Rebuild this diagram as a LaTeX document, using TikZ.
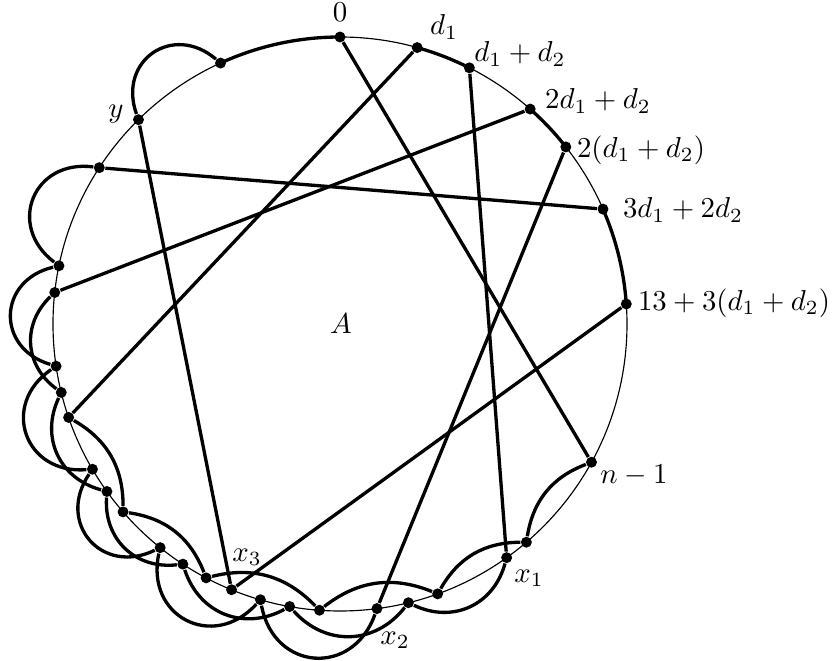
\documentclass[tikz,border=0pt]{standalone}
\begin{document}
\begin{tikzpicture}[
  dot/.style={circle,fill=black,inner sep=0pt,minimum size=3.8pt},
  edge/.style={line width=1.15pt},
  inarc/.style={edge,bend left=30},
  outbig/.style={edge,bend right=75,looseness=1.5},
  outsmall/.style={edge,bend right=50,looseness=1.1},
  lab/.style={inner sep=0pt}
]
\def\R{3.5}
\useasboundingbox (-4.1463,-4.1098) rectangle (6.0122,3.9512);
\draw[line width=0.4pt] (0,0) circle (\R);
% points
\foreach \n/\a in {p0/90,pd1/74.4,pd12/63.2,ptd1/48.5,ptd12/38.1,pthr/23.6,pth/4.0,
  a1/-28.8,a2/-49.5,a3/-54.5,a4/-70.1,a5/-76.2,a6/-82.6,a7/-94.1,a8/-100.1,a9/-106.1,
  a10/-112.2,a11/-117.8,a12/-123.2,a13/-128.8,a14/-139.1,a15/-144.3,a16/-149.6,a17/-161.0,
  a18/-166.2,a19/-171.55,a20/-186.3,a21/-191.7,a22/-213,a23/-225.4,a24/-245.4}
  \node[dot] (\n) at (\a:\R) {};
% thick arcs along the circle
\draw[edge] (p0.center) arc[start angle=90,end angle=114.6,radius=\R];
\draw[edge] (pd1.center) arc[start angle=74.4,end angle=63.2,radius=\R];
\draw[edge] (ptd1.center) arc[start angle=48.5,end angle=38.1,radius=\R];
\draw[edge] (pthr.center) arc[start angle=23.6,end angle=4.0,radius=\R];
% chords
\draw[edge] (p0) -- (a1);
\draw[edge] (pd1) -- (a17);
\draw[edge] (pd12) -- (a3);
\draw[edge] (ptd1) -- (a20);
\draw[edge] (ptd12) -- (a6);
\draw[edge] (pthr) -- (a22);
\draw[edge] (pth) -- (a10);
\draw[edge] (a23) -- (a10);
% inside arcs
\draw[inarc] (a2) to (a1);
\draw[inarc] (a4) to (a2);
\draw[inarc] (a7) to (a4);
\draw[inarc] (a11) to (a7);
\draw[inarc] (a14) to (a11);
\draw[inarc] (a17) to (a14);
% outside arcs, large
\draw[outbig] (a24) to (a23);
\draw[outbig] (a22) to (a21);
\draw[outbig] (a21) to (a19);
\draw[outbig] (a19) to (a16);
\draw[outbig] (a16) to (a13);
\draw[outbig] (a13) to (a9);
\draw[outbig] (a9) to (a6);
% outside arcs, small
\draw[outsmall] (a20) to (a18);
\draw[outsmall] (a18) to (a15);
\draw[outsmall] (a15) to (a12);
\draw[outsmall] (a12) to (a8);
\draw[outsmall] (a8) to (a5);
\draw[outsmall] (a5) to (a3);
% labels
\node[lab] (l0) at (0,3.805) {$0$};
\node[lab] (ld1) at (1.268,3.622) {$d_1$};
\node[lab] (ld12) at (2.195,3.293) {$d_1+d_2$};
\node[lab] (ltd1) at (3.146,2.720) {$2d_1+d_2$};
\node[lab] (ltd12) at (3.671,2.122) {$2(d_1+d_2)$};
\node[lab] (lthr) at (4.183,1.390) {$3d_1+2d_2$};
\node[lab] (lth) at (4.805,0.256) {$13+3(d_1+d_2)$};
\node[lab] (ln) at (3.585,-1.841) {$n-1$};
\node[lab] (lx1) at (2.305,-3.098) {$x_1$};
\node[lab] (lx2) at (0.671,-3.854) {$x_2$};
\node[lab] (lx3) at (-1.134,-2.841) {$x_3$};
\node[lab] (ly) at (-2.732,2.565) {$y$};
\node[lab] (lA) at (0.01,0) {$A$};
\end{tikzpicture}
\end{document}
